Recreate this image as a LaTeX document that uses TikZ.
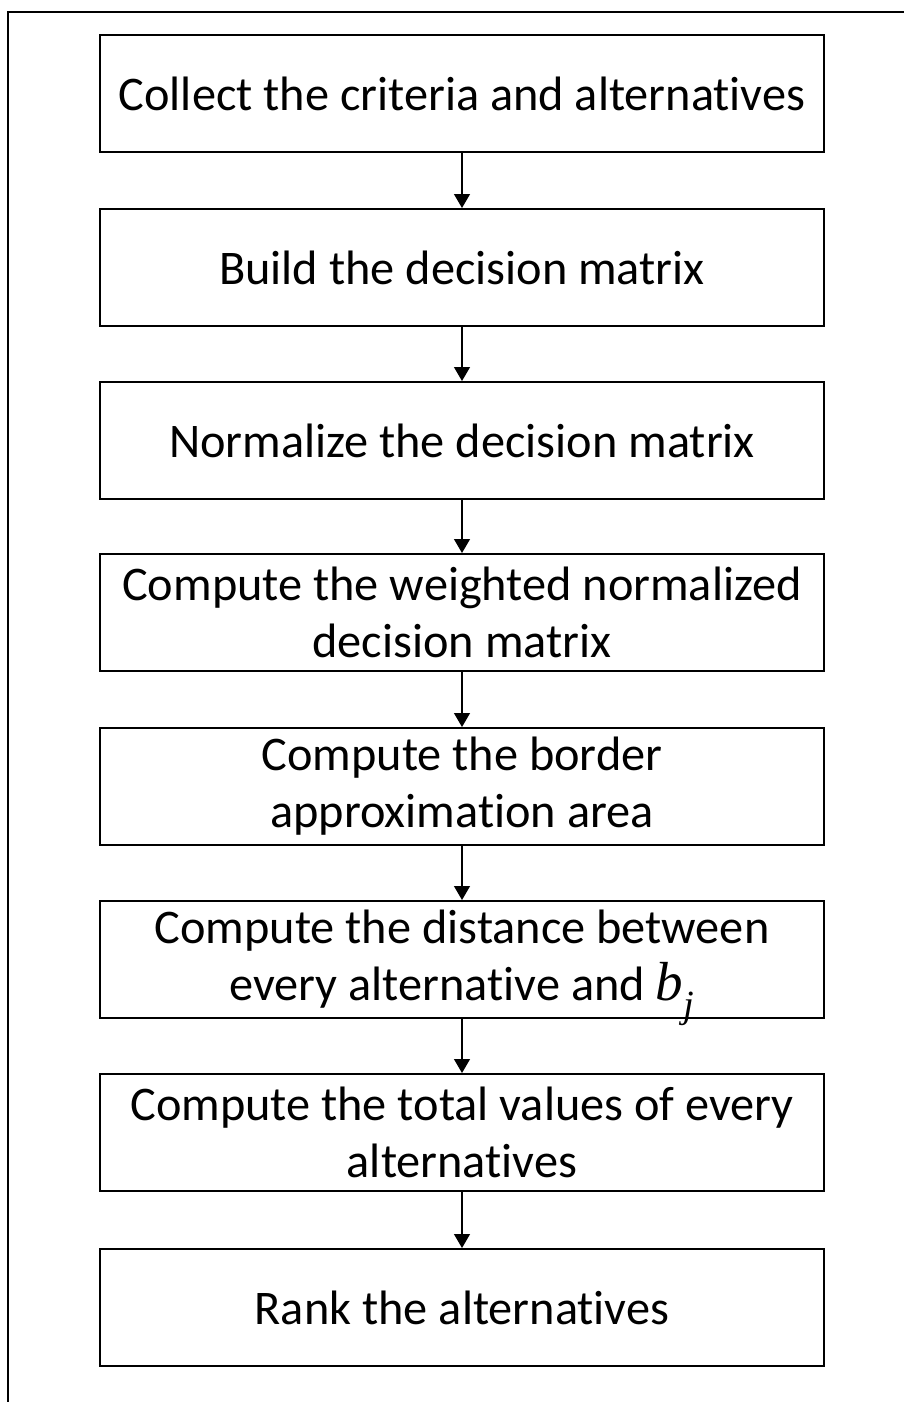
\documentclass[tikz,border=0pt]{standalone}
\usepackage{fontspec}
\setmainfont{Carlito}[Ligatures=NoCommon]
\newfontfamily\bjfont{Liberation Serif}
\usetikzlibrary{arrows.meta}
\begin{document}
\begin{tikzpicture}[x=1pt,y=-1pt,
  stepbox/.style={draw, line width=2pt, minimum width=724pt, minimum height=117pt,
    inner sep=0pt, align=center, font=\fontsize{48.3}{57}\selectfont, anchor=north},
  flow/.style={-{Triangle[length=14pt,width=16pt]}, line width=1.3pt}]
\useasboundingbox (0,0) rectangle (904,1402);
\draw[line width=2.2pt] (8,1402) -- (8,12) -- (904,12);
\node[stepbox] (s1) at (462,34) {Collect the criteria and alternatives};
\node[stepbox] (s2) at (462,208) {Build the decision matrix};
\node[stepbox] (s3) at (462,381) {Normalize the decision matrix};
\node[stepbox] (s4) at (462,553) {Compute the weighted normalized\\decision matrix};
\node[stepbox] (s5) at (462,727) {Compute the border\\approximation area};
\node[stepbox] (s6) at (462,900) {Compute the distance between\\every alternative and \smash{\fontsize{55}{57}\selectfont\bjfont\itshape b\textsubscript{j}}};
\node[stepbox] (s7) at (462,1073) {Compute the total values of every\\alternatives};
\node[stepbox] (s8) at (462,1248) {Rank the alternatives};
\foreach \a/\b in {s1/s2,s2/s3,s3/s4,s4/s5,s5/s6,s6/s7,s7/s8}
  \draw[flow] (\a.south) -- (\b.north);
\end{tikzpicture}
\end{document}
